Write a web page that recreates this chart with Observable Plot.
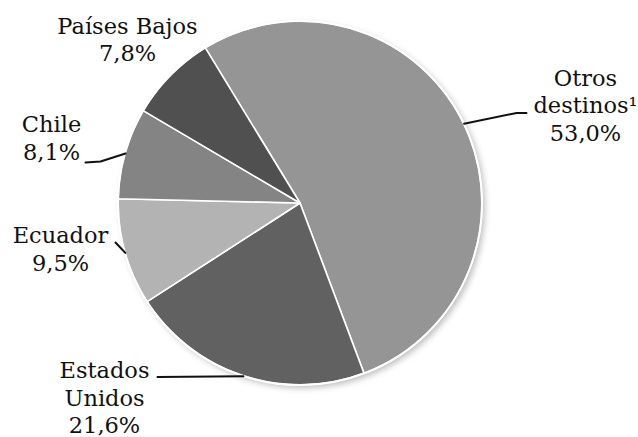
<!DOCTYPE html>
<html><head><meta charset="utf-8">
<script src="https://cdn.jsdelivr.net/npm/d3@7"></script>
<script src="https://cdn.jsdelivr.net/npm/@observablehq/plot@0.6"></script>
<style>body{margin:0;background:#fff}</style>
</head><body><div id="chart"></div>
<script>
// ---- data ----
const categories = ["Otros destinos", "Estados Unidos", "Ecuador", "Chile", "Países Bajos"];
const shares = [53.0, 21.6, 9.5, 8.1, 7.8];
const labelTexts = ["Otros\ndestinos¹\n53,0%", "Estados\nUnidos\n21,6%", "Ecuador\n9,5%", "Chile\n8,1%", "Países Bajos\n7,8%"];
const fills = ["#959595", "#616161", "#b3b3b3", "#848484", "#505050"];

// ---- layout (pixels) ----
const W = 638, H = 437, CX = 300, CY = 203, R = 182, START_DEG = -31.4;
const labelPos = [[585, 140], [104, 432.5], [60, 270], [51, 159.3], [127, 60.5]];
const leaderBends = [[[516, 112.5], [526, 112.5]], [[157, 376.5]], [[115, 242]], [[100, 161], [85, 162]], []];
const FONT = "DejaVu Serif";

const rows = categories.map((c, i) => ({category: c, share: shares[i], label: labelTexts[i], fill: fills[i]}));
const a0 = START_DEG * Math.PI / 180;
const arcs = d3.pie().sort(null).value(d => d.share).startAngle(a0).endAngle(a0 + 2 * Math.PI)(rows);

const labelRows = rows.map((d, i) => ({...d, lx: labelPos[i][0], ly: labelPos[i][1]}));
const leaderRows = [];
arcs.forEach((a, i) => {
  if (!leaderBends[i].length) return;
  const mid = (a.startAngle + a.endAngle) / 2;
  leaderRows.push({category: a.data.category, px: CX + R * Math.sin(mid), py: CY - R * Math.cos(mid)});
  leaderBends[i].forEach(p => leaderRows.push({category: a.data.category, px: p[0], py: p[1]}));
});

function pieMark(index, scales) {
  const cx = scales.x(CX), cy = scales.y(CY), r = scales.x(CX + R) - cx;
  const g = d3.create("svg:g");
  const defs = g.append("defs");
  const f = defs.append("filter").attr("id", "pieShadow").attr("x", "-20%").attr("y", "-20%").attr("width", "140%").attr("height", "140%");
  f.append("feGaussianBlur").attr("stdDeviation", 3);
  g.append("circle").attr("cx", cx + 3).attr("cy", cy + 3).attr("r", r).attr("fill", "#888").attr("opacity", 0.55).attr("filter", "url(#pieShadow)");
  const arc = d3.arc().innerRadius(0).outerRadius(r);
  const pg = g.append("g").attr("transform", `translate(${cx},${cy})`);
  pg.selectAll("path").data(arcs).join("path")
    .attr("d", arc).attr("fill", d => d.data.fill)
    .attr("stroke", "#fff").attr("stroke-width", 1.6).attr("stroke-linejoin", "round");
  pg.append("circle").attr("r", r).attr("fill", "none").attr("stroke", "#fff").attr("stroke-width", 2);
  return g.node();
}

const chart = Plot.plot({
  width: W, height: H,
  margin: 0,
  x: {domain: [0, W], range: [0, W], axis: null},
  y: {domain: [0, H], range: [0, H], axis: null},
  marks: [
    pieMark,
    Plot.line(leaderRows, {x: "px", y: "py", z: "category", stroke: "#111", strokeWidth: 2}),
    Plot.text(labelRows, {x: "lx", y: "ly", text: "label", textAnchor: "middle", lineAnchor: "bottom", lineHeight: 1.22, fontSize: 22.5, fontFamily: FONT, fill: "#111"})
  ]
});
document.getElementById("chart").appendChild(chart);
</script>
</body></html>
